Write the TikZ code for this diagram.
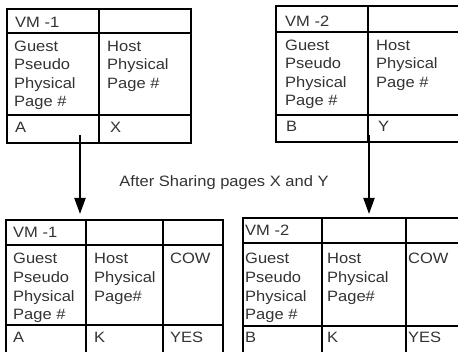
\documentclass[tikz,border=0pt]{standalone}
\usepackage{fontspec}
\setmainfont[FakeStretch=1.1]{Liberation Sans}
\usetikzlibrary{arrows.meta}
\definecolor{txtgray}{HTML}{333333}
\begin{document}
\begin{tikzpicture}[x=1pt,y=-1pt,
  cell/.style={draw=black,line width=1.1pt},
  txt/.style={anchor=base west,inner sep=0pt,font=\fontsize{15}{19}\selectfont,text=txtgray},
  caption/.style={anchor=base,inner sep=0pt,font=\fontsize{15}{19}\selectfont,text=txtgray},
  flow/.style={draw=black,line width=2pt,-{Triangle[length=16pt,width=11pt]}}]
\useasboundingbox[fill=white] (0,0) rectangle (458,352);
% ---- top-left table (VM-1 before)
\draw[cell] (7,9) rectangle (191,143);
\draw[cell] (7,33) -- (191,33);
\draw[cell] (7,115) -- (191,115);
\draw[cell] (99,9) -- (99,143);
\node[txt] (tl1) at (15,28) {VM -1};
\node[txt] (tl2) at (14,52) {Guest};
\node[txt] (tl3) at (14,70) {Pseudo};
\node[txt] (tl4) at (14,89) {Physical};
\node[txt] (tl5) at (14,107) {Page \#};
\node[txt] (tl6) at (107,52) {Host};
\node[txt] (tl7) at (107,70) {Physical};
\node[txt] (tl8) at (107,89) {Page \#};
\node[txt] (tl9) at (15,133) {A};
\node[txt] (tl10) at (110,133) {X};
% ---- top-right table (VM-2 before)
\draw[cell] (458,6) -- (276,6) -- (276,142) -- (458,142);
\draw[cell] (276,32) -- (458,32);
\draw[cell] (276,115) -- (458,115);
\draw[cell] (368,6) -- (368,142);
\node[txt] (tr1) at (285,27) {VM -2};
\node[txt] (tr2) at (285,51) {Guest};
\node[txt] (tr3) at (285,69) {Pseudo};
\node[txt] (tr4) at (285,88) {Physical};
\node[txt] (tr5) at (285,106) {Page \#};
\node[txt] (tr6) at (376,51) {Host};
\node[txt] (tr7) at (376,69) {Physical};
\node[txt] (tr8) at (376,88) {Page \#};
\node[txt] (tr9) at (286,132) {B};
\node[txt] (tr10) at (378,132) {Y};
% ---- caption
\node[caption] (cap) at (224,187) {After Sharing pages X and Y};
% ---- arrows
\coordinate (a1s) at (80,135);
\coordinate (a1e) at (80,214);
\coordinate (a2s) at (369,135);
\coordinate (a2e) at (369,214);
\draw[flow] (a1s) -- (a1e);
\draw[flow] (a2s) -- (a2e);
% ---- bottom-left table (VM-1 after)
\draw[cell] (6,352) -- (6,220) -- (223,220) -- (223,352);
\draw[cell] (6,245) -- (223,245);
\draw[cell] (6,325) -- (223,325);
\draw[cell] (86,220) -- (86,352);
\draw[cell] (163,220) -- (163,352);
\node[txt] (bl1) at (13,238) {VM -1};
\node[txt] (bl2) at (13,264) {Guest};
\node[txt] (bl3) at (13,283) {Pseudo};
\node[txt] (bl4) at (13,302) {Physical};
\node[txt] (bl5) at (13,320) {Page \#};
\node[txt] (bl6) at (94,264) {Host};
\node[txt] (bl7) at (94,283) {Physical};
\node[txt] (bl8) at (94,302) {Page\#};
\node[txt] (bl9) at (170,264) {COW};
\node[txt] (bl10) at (13,343) {A};
\node[txt] (bl11) at (94,343) {K};
\node[txt] (bl12) at (170,343) {YES};
% ---- bottom-right table (VM-2 after)
\draw[cell] (243,352) -- (243,218) -- (458,218);
\draw[cell] (243,243) -- (458,243);
\draw[cell] (243,326) -- (458,326);
\draw[cell] (322,218) -- (322,352);
\draw[cell] (406,218) -- (406,352);
\node[txt] (br1) at (245,236) {VM -2};
\node[txt] (br2) at (245,264) {Guest};
\node[txt] (br3) at (245,283) {Pseudo};
\node[txt] (br4) at (245,302) {Physical};
\node[txt] (br5) at (245,320) {Page \#};
\node[txt] (br6) at (327,264) {Host};
\node[txt] (br7) at (327,283) {Physical};
\node[txt] (br8) at (327,302) {Page\#};
\node[txt] (br9) at (408,264) {COW};
\node[txt] (br10) at (245,343) {B};
\node[txt] (br11) at (327,343) {K};
\node[txt] (br12) at (408,343) {YES};
\end{tikzpicture}
\end{document}
